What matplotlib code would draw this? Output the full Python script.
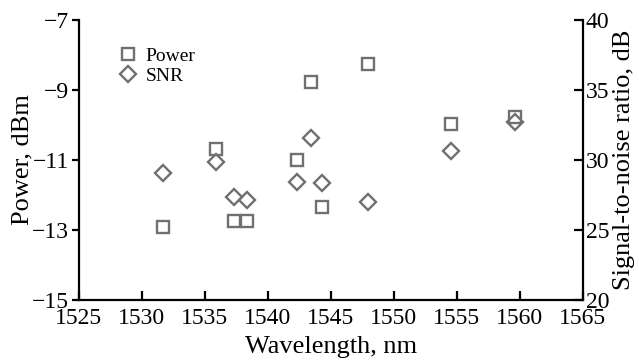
import matplotlib.pyplot as plt

plt.rcParams['font.family'] = ['Liberation Serif', 'DejaVu Serif']
plt.rcParams['axes.unicode_minus'] = True
font_size = 17
label_font_size = 19
legend_font_size = 14

# wavelength, nm
wl = [1531.7, 1535.9, 1537.3, 1538.3, 1542.3, 1543.4, 1544.3, 1547.9, 1554.5, 1559.6]
power = [-12.91, -10.69, -12.74, -12.74, -11.0, -8.77, -12.34, -8.26, -9.97, -9.77]
snr = [29.07, 29.86, 27.36, 27.14, 28.43, 31.57, 28.36, 27.0, 30.64, 32.71]

mk_color = '#707070'

fig = plt.figure(figsize=(6.39, 3.63), dpi=100)
ax = fig.add_axes([0.1236, 0.1736, 0.7887, 0.7713])
ax2 = ax.twinx()

h1, = ax.plot(wl, power, ls='none', marker='s', ms=8.5, mfc='none', mec=mk_color, mew=1.7, label='Power')
h2, = ax2.plot(wl, snr, ls='none', marker='D', ms=8, mfc='none', mec=mk_color, mew=1.7, label='SNR')

ax.set_xlim(1525, 1565)
ax.set_ylim(-15, -7)
ax2.set_ylim(20, 40)
ax.set_xticks(range(1525, 1566, 5))
ax.set_yticks([-15, -13, -11, -9, -7])
ax2.set_yticks([20, 25, 30, 35, 40])

for a in (ax, ax2):
    a.spines['top'].set_visible(False)
    for s in a.spines.values():
        s.set_linewidth(1.6)
ax.spines['right'].set_visible(False)
ax2.spines['left'].set_visible(False)
ax2.spines['bottom'].set_visible(False)

ax.tick_params(axis='x', direction='in', length=6.5, width=1.6, labelsize=font_size, pad=6)
ax.tick_params(axis='y', direction='out', length=5, width=1.6, labelsize=font_size, pad=2)
ax2.tick_params(axis='y', direction='in', length=6.5, width=1.6, labelsize=font_size, pad=2)

ax.set_xlabel('Wavelength, nm', fontsize=label_font_size)
ax.set_ylabel('Power, dBm', fontsize=label_font_size)
ax2.set_ylabel('Signal-to-noise ratio, dB', fontsize=label_font_size)
ax.xaxis.set_label_coords(0.5, -0.13)
ax.yaxis.set_label_coords(-0.09, 0.5)
ax2.yaxis.set_label_coords(1.06, 0.5)

ax.legend(handles=[h1, h2], loc='upper left', bbox_to_anchor=(0.065, 0.93), frameon=False,
          fontsize=legend_font_size, handlelength=0.9, handletextpad=0.45, labelspacing=0.1,
          borderaxespad=0)

plt.savefig('out.png', dpi=100)
